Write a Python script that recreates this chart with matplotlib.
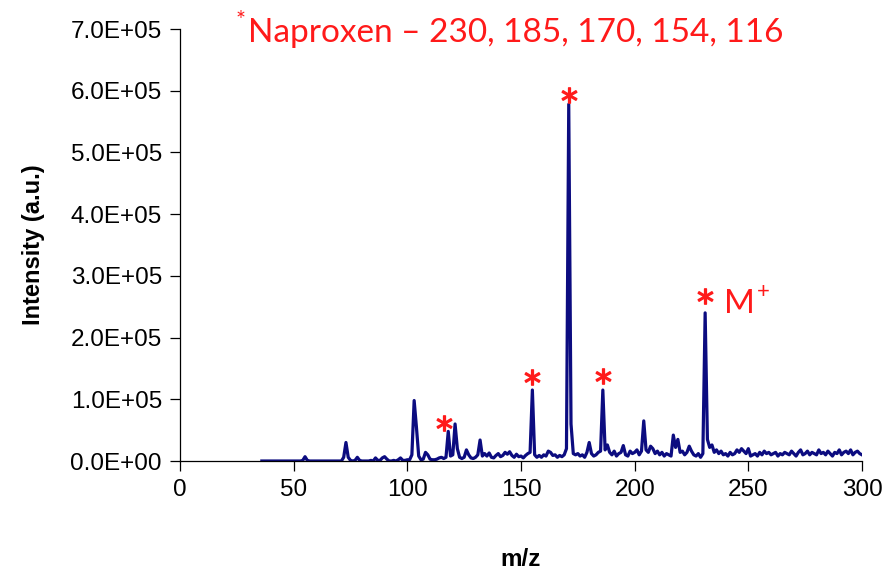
import matplotlib
matplotlib.use("Agg")
import matplotlib.pyplot as plt
from matplotlib.ticker import FuncFormatter, MultipleLocator

# m/z grid (1 Da steps) and intensities (in thousands of counts)
mz = list(range(36, 301))
intensity_k = [
    0, 0, 0, 0, 0, 0, 0, 0, 0, 0, 0, 0, 0, 0, 0, 0, 0, 0,          # 36-53
    1, 7, 1, 0, 0, 0, 0, 0, 0, 0, 0, 0, 0, 0, 0, 0, 0, 0,          # 54-71
    6, 30, 6, 1, 0, 1, 6, 1, 0, 0, 0, 0, 1, 0, 5, 1, 1, 5, 7, 3,   # 72-91
    0, 0, 1, 0, 2, 5, 1, 1, 2, 2, 10, 98, 55, 8, 2, 3, 14, 10,     # 92-109
    3, 2, 2, 3, 5, 6, 4, 6, 48, 8, 10, 60, 20, 6, 4, 6, 18, 10,    # 110-127
    5, 4, 6, 10, 34, 8, 12, 8, 13, 6, 5, 9, 12, 7, 9, 14, 11, 15,  # 128-145
    9, 6, 11, 7, 8, 5, 9, 12, 14, 115, 10, 6, 9, 6, 10, 8, 16, 14, # 146-163
    9, 10, 6, 9, 7, 10, 20, 578, 60, 12, 10, 12, 8, 10, 6, 14, 30, 12,  # 164-181
    8, 10, 14, 16, 115, 18, 26, 14, 10, 16, 8, 12, 14, 25, 10, 8, 16, 12,  # 182-199
    14, 18, 10, 16, 65, 18, 14, 24, 20, 12, 16, 10, 14, 8, 12, 10, 8, 42,  # 200-217
    22, 35, 14, 16, 10, 14, 24, 16, 10, 8, 12, 6, 12, 240, 35, 22, 26, 14, # 218-235
    18, 12, 16, 10, 12, 8, 14, 10, 12, 18, 14, 20, 16, 12, 20, 8, 10, 12,  # 236-253
    8, 14, 10, 16, 12, 14, 10, 12, 14, 8, 12, 10, 14, 12, 10, 16, 12, 8,   # 254-271
    14, 18, 10, 12, 16, 10, 14, 12, 10, 18, 12, 14, 10, 16, 12, 8, 14, 12, # 272-289
    18, 10, 14, 16, 12, 18, 10, 14, 16, 12, 10,                            # 290-300
]

# fragment markers (asterisks) and their label heights
star_mz = [116, 155, 171, 186, 231]
star_y = [62000, 136000, 593000, 138000, 267000]

title_text = "Naproxen \u2013 230, 185, 170, 154, 116"

fig = plt.figure(figsize=(8.85, 5.71), dpi=100)
ax = fig.add_axes([180 / 885, 1 - 461 / 571, (862 - 180) / 885, (461 - 29) / 571])

ax.plot(mz, [v * 1000 for v in intensity_k], color="#0c0c80", lw=2.3, solid_joinstyle="round")
ax.plot(star_mz, star_y, linestyle="none", marker="$*$", color="#ff1a1a", markersize=11)

ax.set_xlim(0, 300)
ax.set_ylim(0, 700000)
ax.xaxis.set_major_locator(MultipleLocator(50))
ax.yaxis.set_major_locator(MultipleLocator(100000))
ax.yaxis.set_major_formatter(FuncFormatter(lambda v, p: f"{v:.1E}"))

for s in ["top", "right"]:
    ax.spines[s].set_visible(False)
for s in ["left", "bottom"]:
    ax.spines[s].set_color("black")
    ax.spines[s].set_linewidth(0.9)
ax.tick_params(direction="out", length=7, width=0.9, colors="black", labelsize=17.5, pad=6)
for lab in ax.get_xticklabels() + ax.get_yticklabels():
    lab.set_fontfamily("Liberation Sans")

ax.set_ylabel("Intensity (a.u.)", fontsize=17, fontweight="bold", family="Liberation Sans", labelpad=18)
ax.set_xlabel("m/z", fontsize=17.5, fontweight="bold", family="Liberation Sans", labelpad=34)

# title
fig.text(248 / 885, 1 - 42 / 571, title_text, color="#ff1a1a", fontsize=24,
         family="Lato", ha="left", va="baseline")
fig.text(236 / 885, 1 - 27 / 571, "*", color="#ff1a1a", fontsize=17,
         family="Lato", ha="left", va="baseline")
# M+ label
fig.text(724 / 885, 1 - 313 / 571, "M", color="#ff1a1a", fontsize=24,
         family="Lato", ha="left", va="baseline")
fig.text(757 / 885, 1 - 298 / 571, "+", color="#ff1a1a", fontsize=16,
         family="Lato", ha="left", va="baseline")

fig.savefig("out.png", dpi=100)
